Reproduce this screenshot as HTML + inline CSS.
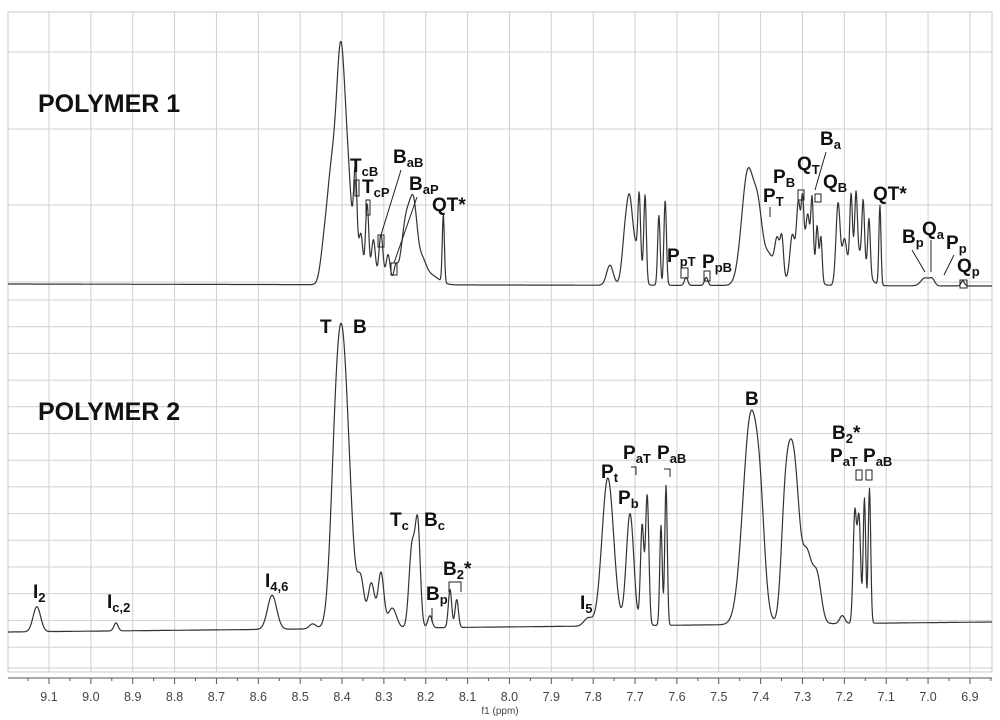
<!DOCTYPE html>
<html><head><meta charset="utf-8">
<style>
html,body{margin:0;padding:0;background:#fff;}
svg{display:block;font-family:"Liberation Sans",Arial,sans-serif;}
.lb{font-weight:bold;font-size:19px;fill:#111;}
.lb tspan.s{font-size:13px;}
.tick{font-size:12.5px;fill:#444;}
</style></head>
<body>
<svg id="chart" width="1000" height="720" viewBox="0 0 1000 720" xmlns="http://www.w3.org/2000/svg">
<g id="grid"></g>
<g id="axis"></g>
<g id="series"></g>
<g id="labels">
<text class="lb" x="38" y="112" style="font-size:25px">POLYMER 1</text>
<text class="lb" x="38" y="420" style="font-size:25px">POLYMER 2</text>
<text class="lb" x="350" y="172">T<tspan class="s" dy="4">cB</tspan></text>
<text class="lb" x="362" y="193">T<tspan class="s" dy="4">cP</tspan></text>
<text class="lb" x="393" y="163">B<tspan class="s" dy="4">aB</tspan></text>
<text class="lb" x="409" y="190">B<tspan class="s" dy="4">aP</tspan></text>
<text class="lb" x="432" y="211">QT*</text>
<text class="lb" x="667" y="262">P<tspan class="s" dy="4">pT</tspan></text>
<text class="lb" x="702" y="268">P<tspan class="s" dy="4">pB</tspan></text>
<text class="lb" x="763" y="202">P<tspan class="s" dy="4">T</tspan></text>
<text class="lb" x="773" y="183">P<tspan class="s" dy="4">B</tspan></text>
<text class="lb" x="797" y="170">Q<tspan class="s" dy="4">T</tspan></text>
<text class="lb" x="820" y="145">B<tspan class="s" dy="4">a</tspan></text>
<text class="lb" x="823" y="188">Q<tspan class="s" dy="4">B</tspan></text>
<text class="lb" x="873" y="200">QT*</text>
<text class="lb" x="902" y="243">B<tspan class="s" dy="4">p</tspan></text>
<text class="lb" x="922" y="235">Q<tspan class="s" dy="4">a</tspan></text>
<text class="lb" x="946" y="249">P<tspan class="s" dy="4">p</tspan></text>
<text class="lb" x="957" y="272">Q<tspan class="s" dy="4">p</tspan></text>
<text class="lb" x="320" y="333">T</text>
<text class="lb" x="353" y="333">B</text>
<text class="lb" x="390" y="526">T<tspan class="s" dy="4">c</tspan></text>
<text class="lb" x="424" y="526">B<tspan class="s" dy="4">c</tspan></text>
<text class="lb" x="426" y="600">B<tspan class="s" dy="4">p</tspan></text>
<text class="lb" x="443" y="575">B<tspan class="s" dy="4">2</tspan><tspan dy="-4">*</tspan></text>
<text class="lb" x="33" y="598">I<tspan class="s" dy="4">2</tspan></text>
<text class="lb" x="107" y="608">I<tspan class="s" dy="4">c,2</tspan></text>
<text class="lb" x="265" y="587">I<tspan class="s" dy="4">4,6</tspan></text>
<text class="lb" x="580" y="609">I<tspan class="s" dy="4">5</tspan></text>
<text class="lb" x="601" y="478">P<tspan class="s" dy="4">t</tspan></text>
<text class="lb" x="618" y="504">P<tspan class="s" dy="4">b</tspan></text>
<text class="lb" x="623" y="459">P<tspan class="s" dy="4">aT</tspan></text>
<text class="lb" x="657" y="459">P<tspan class="s" dy="4">aB</tspan></text>
<text class="lb" x="745" y="405">B</text>
<text class="lb" x="832" y="439">B<tspan class="s" dy="4">2</tspan><tspan dy="-4">*</tspan></text>
<text class="lb" x="830" y="462">P<tspan class="s" dy="4">aT</tspan></text>
<text class="lb" x="863" y="462">P<tspan class="s" dy="4">aB</tspan></text>
<g stroke="#222" stroke-width="1" fill="none">
<path d="M355 180V196h4V180z M366 200V215h4V200z M401 170L381 235 M378 235h6v12h-6z M417 197L394 263 M391 263h6v12h-6z"/>
<path d="M681 268h7v10h-7z M704 271h6v10h-6z M770 207v10 M798 190h6v10h-6z M815 194h6v8h-6z M826 152L815 190"/>
<path d="M912 250L925 272 M931 240V272 M954 255L944 275 M960 280h7v8h-7z"/>
<path d="M455 582h-6v10 M455 582h6v10 M432 608v14"/>
<path d="M631 467h5v8 M664 469h6v8 M856 470h6v10h-6z M866 470h6v10h-6z"/>
</g>
</g>
<text class="tick" x="500" y="714" text-anchor="middle" style="font-size:10px">f1 (ppm)</text>
</svg>
<script>
// ---- data ----
const xTicks = [9.1,9.0,8.9,8.8,8.7,8.6,8.5,8.4,8.3,8.2,8.1,8.0,7.9,7.8,7.7,7.6,7.5,7.4,7.3,7.2,7.1,7.0,6.9];
// polymer 1 peaks: ppm, height, sigma
const p1Ppm = [8.445,8.425,8.403,8.385,8.368,8.355,8.340,8.325,8.307,8.290,8.272,8.245,8.228,8.210,8.190,8.158,
 7.760,7.722,7.712,7.690,7.676,7.643,7.628,7.578,7.530,7.430,7.405,7.360,7.349,7.325,7.310,7.300,7.287,7.277,7.265,7.256,7.215,7.200,7.184,7.172,7.155,7.141,7.115,7.007,6.990,6.917,
 7.700,7.380,7.300,7.170];
const p1Amp = [20,110,205,90,95,50,80,45,50,30,15,70,55,20,10,68,
 20,55,40,65,85,70,85,8,8,115,55,40,40,30,45,45,35,65,50,45,80,35,65,60,60,55,80,8,6,5,
 40,30,45,35];
const p1Wid = [0.008,0.012,0.010,0.010,0.004,0.005,0.004,0.005,0.005,0.005,0.005,0.012,0.008,0.010,0.020,0.0025,
 0.008,0.008,0.006,0.003,0.003,0.003,0.003,0.004,0.004,0.015,0.010,0.006,0.004,0.005,0.004,0.003,0.004,0.003,0.003,0.003,0.005,0.005,0.003,0.003,0.003,0.003,0.0025,0.01,0.006,0.004,
 0.012,0.012,0.02,0.02];
// polymer 2 peaks
const p2Ppm = [9.129,8.940,8.567,8.470,8.420,8.402,8.380,8.355,8.330,8.307,8.280,8.233,8.219,8.190,8.142,8.126,
 7.812,7.765,7.712,7.683,7.671,7.638,7.626,7.423,7.400,7.345,7.332,7.315,7.290,7.265,7.205,7.175,7.165,7.152,7.140];
const p2Amp = [25,8,34,5,40,290,40,45,45,55,20,80,100,12,38,28,
 8,148,112,100,130,100,140,210,50,40,150,90,70,45,8,110,105,125,135];
const p2Wid = [0.009,0.005,0.011,0.008,0.010,0.016,0.012,0.008,0.008,0.007,0.010,0.007,0.006,0.005,0.004,0.004,
 0.010,0.014,0.009,0.004,0.004,0.003,0.003,0.019,0.010,0.008,0.012,0.010,0.012,0.010,0.006,0.004,0.004,0.003,0.003];
const p1Base = [284,286];
const p2Base = [632,622];

// ---- axes ----
const X0=8, X1=992;
function xs(p){ return 49 + (9.1 - p)*418.6; }
const pLeft = 9.1 + (49-X0)/418.6;
const NS='http://www.w3.org/2000/svg';
function mk(tag, attrs, parent){ const e=document.createElementNS(NS,tag); for(const k in attrs) e.setAttribute(k,attrs[k]); parent.appendChild(e); return e; }

const grid=document.getElementById('grid');
mk('rect',{x:X0,y:12,width:X1-X0,height:660,fill:'none',stroke:'#c8c8c8','stroke-width':1},grid);
for(let p=9.1;p>6.85;p-=0.1){
  const l=mk('line',{x1:xs(p),x2:xs(p),y1:12,y2:672,stroke:'#cfcfcf','stroke-width':1},grid);
  
  
}
const hLines=[52,129,205,282];
for(let k=0;k<=13;k++) hLines.push(300+k*26.7);
hLines.push(668);
hLines.forEach(y=>{
  const l=mk('line',{x1:X0,x2:X1,y1:y,y2:y,stroke:'#cfcfcf','stroke-width':1},grid);
  
  
});

const axis=document.getElementById('axis');
mk('line',{x1:X0,x2:X1,y1:678,y2:678,stroke:'#555','stroke-width':1},axis);
for(let i=0;i<48;i++){
  const p=Math.round((pLeft*20))/20 - i*0.05;
  const x=xs(p); if(x<X0||x>X1) continue;
  const major=Math.abs(p*10-Math.round(p*10))<0.01;
  mk('line',{x1:x,x2:x,y1:678,y2:major?684:681,stroke:'#555','stroke-width':1},axis);
}
xTicks.forEach(t=>{
  const tx=mk('text',{x:xs(t),y:701,'text-anchor':'middle',class:'tick'},axis);
  tx.textContent=t.toFixed(1);
  
  
});

// ---- spectra ----
function spectrum(ppm,amp,wid,base,name){
  let d='';
  for(let x=X0;x<=X1;x+=0.5){
    const p=9.1-(x-49)/418.6;
    let s=0;
    for(let i=0;i<ppm.length;i++){ const z=(p-ppm[i])/wid[i]; s+=amp[i]*Math.exp(-0.5*z*z); }
    const b=base[0]+(base[1]-base[0])*(x-X0)/(X1-X0);
    d+=(d?'L':'M')+x.toFixed(1)+' '+(b-s).toFixed(1);
  }
  const path=mk('path',{d:d,fill:'none',stroke:'#333','stroke-width':1.2,'stroke-linejoin':'round'},document.getElementById('series'));
  
  
}
spectrum(p1Ppm,p1Amp,p1Wid,p1Base,'polymer-1-spectrum');
spectrum(p2Ppm,p2Amp,p2Wid,p2Base,'polymer-2-spectrum');
</script>
</body></html>
